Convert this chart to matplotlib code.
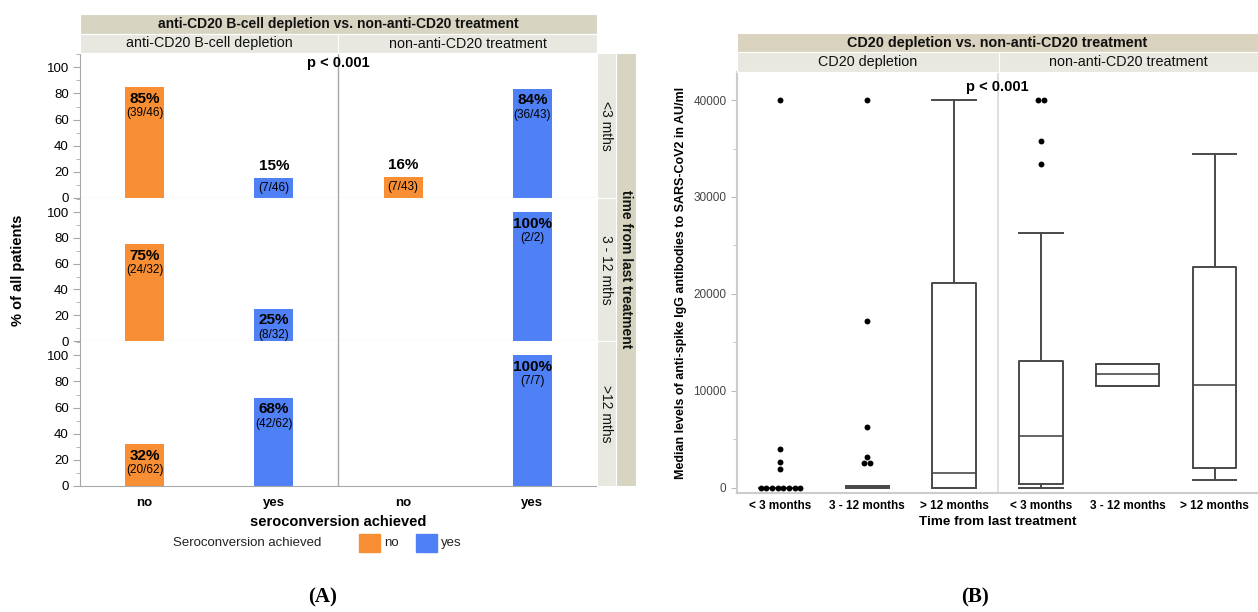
import numpy as np
import matplotlib.pyplot as plt
from matplotlib.patches import Rectangle
from matplotlib.ticker import MultipleLocator

plt.rcParams['font.family'] = ['Liberation Sans', 'DejaVu Sans']

# ---- panel A data: seroconversion by treatment and time since last treatment
time_labels = ['<3 mths', '3 - 12 mths', '>12 mths']
facet_labels_a = ['anti-CD20 B-cell depletion', 'non-anti-CD20 treatment']
sero_labels = ['no', 'yes']
cnt_cd20_no = [39, 24, 20]
cnt_cd20_yes = [7, 8, 42]
tot_cd20 = [46, 32, 62]
cnt_non_no = [7, 0, 0]
cnt_non_yes = [36, 2, 7]
tot_non = [43, 2, 7]

# ---- panel B data: anti-spike IgG (AU/ml), box summaries + outliers
groups_b = ['< 3 months', '3 - 12 months', '> 12 months',
            '< 3 months', '3 - 12 months', '> 12 months']
facet_labels_b = ['CD20 depletion', 'non-anti-CD20 treatment']
q1 = [0, 0, 0, 400, 10500, 2050]
med = [0, 0, 1550, 5300, 11700, 10600]
q3 = [0, 120, 21100, 13100, 12800, 22800]
whis_lo = [0, 0, 0, 0, 10500, 800]
whis_hi = [0, 120, 40000, 26300, 12800, 34400]
outliers = [
    [0, 0, 0, 0, 0, 0, 0, 0, 1900, 2600, 3950, 40000],
    [2500, 2500, 3150, 6300, 17200, 40000],
    [],
    [33400, 35800, 40000, 40000],
    [],
    [],
]

W, H = 1258, 612
ORANGE = '#F88F34'
BLUE = '#4F80F6'
STRIP_DARK = '#d7d4c1'
STRIP_LIGHT = '#e9e8e0'
GRID = '#a8a8a8'


def rect(x0, y0, x1, y1):
    return [x0 / W, 1 - y1 / H, (x1 - x0) / W, (y1 - y0) / H]


def strip(fig, box, text, rotation=0, bold=False, color=STRIP_LIGHT, size=10.3):
    sax = fig.add_axes(rect(*box))
    sax.set_facecolor(color)
    sax.set_xticks([])
    sax.set_yticks([])
    for s in sax.spines.values():
        s.set_color('white')
        s.set_linewidth(0.8)
    sax.text(0.5, 0.5, text, ha='center', va='center', rotation=rotation,
             fontsize=size, fontweight='bold' if bold else 'normal',
             transform=sax.transAxes, color='#111')
    return sax


fig = plt.figure(figsize=(W / 100, H / 100), dpi=100)

# ================= panel A =================
row_edges = [(53, 198), (198, 341), (341, 486)]
for r, (top, bot) in enumerate(row_edges):
    ax = fig.add_axes(rect(80, top, 597, bot))
    pct = [100 * cnt_cd20_no[r] / tot_cd20[r], 100 * cnt_cd20_yes[r] / tot_cd20[r],
           100 * cnt_non_no[r] / tot_non[r], 100 * cnt_non_yes[r] / tot_non[r]]
    cnts = [cnt_cd20_no[r], cnt_cd20_yes[r], cnt_non_no[r], cnt_non_yes[r]]
    tots = [tot_cd20[r], tot_cd20[r], tot_non[r], tot_non[r]]
    xs = np.arange(4)
    cols = [ORANGE, BLUE, ORANGE, BLUE]
    ax.bar(xs, pct, width=0.3, color=cols, zorder=2)
    for x, p, c, t in zip(xs, pct, cnts, tots):
        if c == 0:
            continue
        if p >= 22:
            yp, yf = p - 9, p - 20
        else:
            yp, yf = p + 9, p / 2
        ax.text(x, yp, f'{round(p)}%', ha='center', va='center',
                fontsize=11, fontweight='bold', zorder=3)
        ax.text(x, yf, f'({c}/{t})', ha='center', va='center',
                fontsize=8.5, zorder=3)
    ax.set_xlim(-0.5, 3.5)
    ax.set_ylim(0, 111)
    ax.axvline(1.5, color=GRID, lw=1, zorder=1)
    ax.set_yticks(range(0, 101, 20))
    ax.yaxis.set_minor_locator(MultipleLocator(10))
    ax.tick_params(axis='y', which='major', length=5, color=GRID, labelsize=9.5, pad=3)
    ax.tick_params(axis='y', which='minor', length=3, color=GRID)
    for s in ['top', 'right']:
        ax.spines[s].set_visible(False)
    ax.spines['left'].set_color(GRID)
    ax.spines['bottom'].set_color(GRID)
    if r == 2:
        ax.set_xticks(xs)
        ax.set_xticklabels(sero_labels * 2, fontsize=9.5, fontweight='bold')
        ax.tick_params(axis='x', length=0, pad=8)
        ax.set_xlabel('seroconversion achieved', fontsize=10.5,
                      fontweight='bold', labelpad=4)
    else:
        ax.set_xticks([])
    if r == 0:
        ax.text(1.5, 103, 'p < 0.001', ha='center', va='center',
                fontsize=10.5, fontweight='bold')
    strip(fig, (597, top, 616, bot), time_labels[r], rotation=270, size=10)

fig.text(18 / W, 1 - 270 / H, '% of all patients', rotation=90, ha='center',
         va='center', fontsize=10.5, fontweight='bold')

strip(fig, (80, 14, 597, 34), 'anti-CD20 B-cell depletion vs. non-anti-CD20 treatment',
      bold=True, color=STRIP_DARK, size=10)
strip(fig, (80, 34, 338, 53), facet_labels_a[0])
strip(fig, (338, 34, 597, 53), facet_labels_a[1])
strip(fig, (616, 53, 636, 486), 'time from last treatment', rotation=270,
      bold=True, color=STRIP_DARK, size=10)

# legend
fig.text(247 / W, 1 - 543 / H, 'Seroconversion achieved', ha='center',
         va='center', fontsize=9.5, color='#222')
for x0, col, lab in [(359, ORANGE, 'no'), (416, BLUE, 'yes')]:
    fig.add_artist(Rectangle((x0 / W, 1 - 552 / H), 21 / W, 18 / H,
                             transform=fig.transFigure, color=col))
    fig.text((x0 + 25) / W, 1 - 543 / H, lab, ha='left', va='center',
             fontsize=9.5, color='#222')

# ================= panel B =================
bx = fig.add_axes(rect(737, 72, 1258, 493))
widths = [0.5, 0.5, 0.5, 0.5, 0.72, 0.5]
stats = [dict(med=m, q1=a, q3=b, whislo=lo, whishi=hi, fliers=[])
         for m, a, b, lo, hi in zip(med, q1, q3, whis_lo, whis_hi)]
line = dict(color='#4a4a4a', linewidth=1.4)
bx.bxp(stats, positions=range(6), widths=widths, capwidths=widths,
       showfliers=False, boxprops=line, medianprops=dict(color='#4a4a4a', linewidth=1.2),
       whiskerprops=line, capprops=line, manage_ticks=False)
for i, vals in enumerate(outliers):
    if not vals:
        continue
    uv, cnt = np.unique(vals, return_counts=True)
    for v, n in zip(uv, cnt):
        offs = (np.arange(n) - (n - 1) / 2) * 0.065
        bx.scatter(i + offs, [v] * n, s=18, color='black', zorder=3, linewidths=0)

bx.set_xlim(-0.5, 5.5)
bx.set_ylim(-560, 42900)
bx.axvline(2.5, color='#dcdcdc', lw=1.3, zorder=0)
bx.set_yticks([0, 10000, 20000, 30000, 40000])
bx.yaxis.set_minor_locator(MultipleLocator(5000))
bx.tick_params(axis='y', which='major', length=4, color='#bbb', labelsize=8.5,
               labelcolor='#444')
bx.tick_params(axis='y', which='minor', length=3, color='#bbb')
bx.set_xticks(range(6))
bx.set_xticklabels(groups_b, fontsize=8.5, fontweight='bold')
bx.tick_params(axis='x', length=0, pad=5)
bx.set_xlabel('Time from last treatment', fontsize=9.7, fontweight='bold', labelpad=3)
bx.set_ylabel('Median levels of anti-spike IgG antibodies to SARS-CoV2 in AU/ml',
              fontsize=9, fontweight='bold', labelpad=5)
for s in ['top', 'right']:
    bx.spines[s].set_visible(False)
for s in ['left', 'bottom']:
    bx.spines[s].set_color('#cccccc')
    bx.spines[s].set_linewidth(1.5)
bx.text(2.5, 41400, 'p < 0.001', ha='center', va='center', fontsize=10.5,
        fontweight='bold')

strip(fig, (737, 33, 1258, 52), 'CD20 depletion vs. non-anti-CD20 treatment',
      bold=True, color='#d9d2bf', size=10.4)
strip(fig, (737, 52, 999, 72), facet_labels_b[0], size=10.4)
strip(fig, (999, 52, 1258, 72), facet_labels_b[1], size=10.4)

fig.text(323 / W, 1 - 597 / H, '(A)', ha='center', va='center', fontsize=15,
         fontweight='bold', family='Liberation Serif')
fig.text(975 / W, 1 - 597 / H, '(B)', ha='center', va='center', fontsize=15,
         fontweight='bold', family='Liberation Serif')

fig.savefig('out.png', dpi=100)
